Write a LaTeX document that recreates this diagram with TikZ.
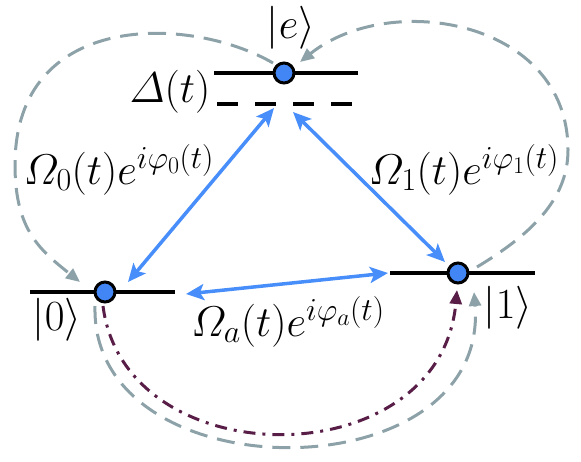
\RequirePackage{fix-cm}
\documentclass[tikz,border=0pt]{standalone}
\usepackage{amsmath}
\usetikzlibrary{arrows.meta,backgrounds}
\DeclareMathSizes{43}{43}{32}{24}
\definecolor{loopgray}{RGB}{140,162,168}
\definecolor{laserblue}{RGB}{72,142,250}
\definecolor{dotblue}{RGB}{66,133,244}
\definecolor{decaypurple}{RGB}{88,30,72}
\tikzset{
  levelline/.style={line width=4pt,black},
  detline/.style={line width=4pt,black,dash pattern=on 21pt off 17pt},
  statedot/.style={circle,draw=black,line width=3pt,fill=dotblue,minimum size=20pt,inner sep=0pt},
  coupling/.style={{Stealth[length=18pt,width=16pt,inset=4pt]}-{Stealth[length=18pt,width=16pt,inset=4pt]},line width=3.5pt,color=laserblue},
  looparr/.style={-{Triangle[length=14pt,width=12pt]},line width=3pt,color=loopgray,dash pattern=on 18pt off 10pt},
  decayarr/.style={-{Triangle[length=14pt,width=12pt]},line width=3pt,color=decaypurple,dash pattern=on 12pt off 7pt on 3pt off 7pt},
  lbl/.style={font=\fontsize{43}{48}\selectfont,inner sep=0pt}
}

\begin{document}
\begin{tikzpicture}[x=1pt,y=-1pt]
  \useasboundingbox (0,0) rectangle (581,461);

  % states
  \node[statedot] (e) at (284,73) {};
  \node[statedot] (s0) at (105,292) {};
  \node[statedot] (s1) at (458,273) {};
  \coordinate (det) at (284,104);

  \begin{pgfonlayer}{background}
    \draw[levelline] ([xshift=-70pt]e.center) -- ([xshift=74pt]e.center);
    \draw[detline] ([xshift=-67pt]det) -- ([xshift=69pt]det);
    \draw[levelline] ([xshift=-75pt]s0.center) -- ([xshift=70pt]s0.center);
    \draw[levelline] ([xshift=-68pt]s1.center) -- ([xshift=77pt]s1.center);
  \end{pgfonlayer}

  % labels
  \node[lbl] (eLbl) at (291,28) {$|e\rangle$};
  \node[lbl] (detLbl) at (170,92) {$\varDelta(t)$};
  \node[lbl] (zeroLbl) at (57,320) {$|0\rangle$};
  \node[lbl] (oneLbl) at (508,308) {$|1\rangle$};
  \node[lbl] (rabi0) at (119,170) {$\varOmega_0(t)e^{i\varphi_0(t)}$};
  \node[lbl] (rabi1) at (464,170) {$\varOmega_1(t)e^{i\varphi_1(t)}$};
  \node[lbl] (rabia) at (288,322) {$\varOmega_a(t)e^{i\varphi_a(t)}$};

  % couplings
  \draw[coupling] ([shift={(-10,4)}]det) -- ([shift={(23,-10)}]s0.center);
  \draw[coupling] ([shift={(9,8)}]det) -- ([shift={(-13,-11)}]s1.center);
  \draw[coupling] ([shift={(81,2)}]s0.center) -- ([shift={(-70,0)}]s1.center);

  % loops
  \draw[looparr] ([shift={(-11,-10)}]e.center)
      .. controls (190,15) and (15,10) .. (15,165)
      .. controls (15,230) and (40,250) .. ([shift={(-25,-10)}]s0.center);
  \draw[looparr] ([shift={(19,-6)}]s1.center)
      .. controls (530,235) and (568,200) .. (568,150)
      .. controls (568,20) and (390,-10) .. ([shift={(16,-11)}]e.center);
  \draw[looparr] ([shift={(-10,14)}]s0.center)
      .. controls (90,495) and (490,495) .. ([shift={(16,19)}]s1.center);
  \draw[decayarr] ([shift={(-2,14)}]s0.center)
      .. controls (125,478) and (440,478) .. ([shift={(-1,17)}]s1.center);
\end{tikzpicture}
\end{document}
